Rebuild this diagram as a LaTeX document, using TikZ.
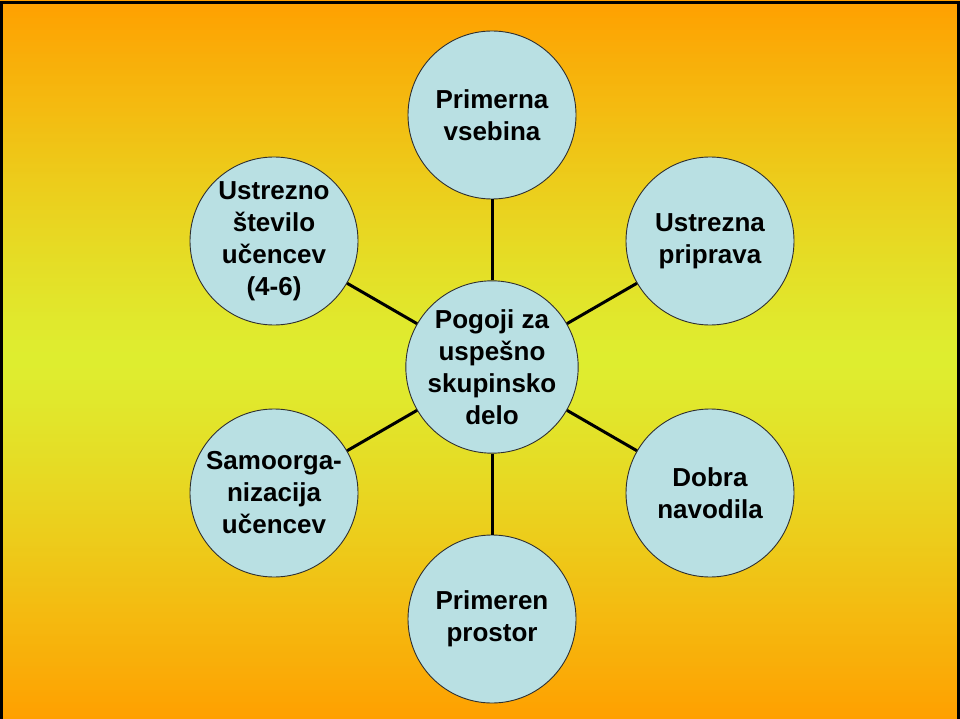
\documentclass[tikz,border=0pt]{standalone}
\usepackage{fontspec}
\setmainfont{Liberation Sans}
\definecolor{bgorange}{HTML}{FFA000}
\definecolor{bgyellow}{HTML}{DEEE30}
\definecolor{circfill}{HTML}{B9E0E3}
\definecolor{circline}{HTML}{303030}
\begin{document}
\begin{tikzpicture}[x=1pt,y=-1pt,
  bubble/.style={circle,draw=circline,line width=0.9pt,fill=circfill,minimum size=168pt,inner sep=0pt,
    align=center,font=\fontsize{26}{32}\selectfont\bfseries},
  link/.style={line width=3pt,black}]
\useasboundingbox (0,0) rectangle (960,719);
\foreach \yy in {0,2,...,718} {
  \pgfmathtruncatemacro\pp{100*(1-(abs(\yy+1-360)/360)^1.2)}
  \fill[bgyellow!\pp!bgorange] (0,\yy) rectangle (960,\yy+2.6);
}
\draw[line width=3pt,black] (1.5,3) rectangle (958.5,740);
\node[bubble] (c) at (492,367) {Pogoji za\\uspešno\\skupinsko\\delo};
\node[bubble] (t) at (492,115) {Primerna\\vsebina};
\node[bubble] (ur) at (710,241) {Ustrezna\\priprava};
\node[bubble] (lr) at (710,493) {Dobra\\navodila};
\node[bubble] (b) at (492,619) {Primeren\\prostor};
\node[bubble] (ll) at (274,493) {Samoorga-\\nizacija\\učencev};
\node[bubble] (ul) at (274,241) {Ustrezno\\število\\učencev\\(4-6)};
\foreach \n in {t,ur,lr,b,ll,ul} \draw[link] (c) -- (\n);
\end{tikzpicture}
\end{document}
